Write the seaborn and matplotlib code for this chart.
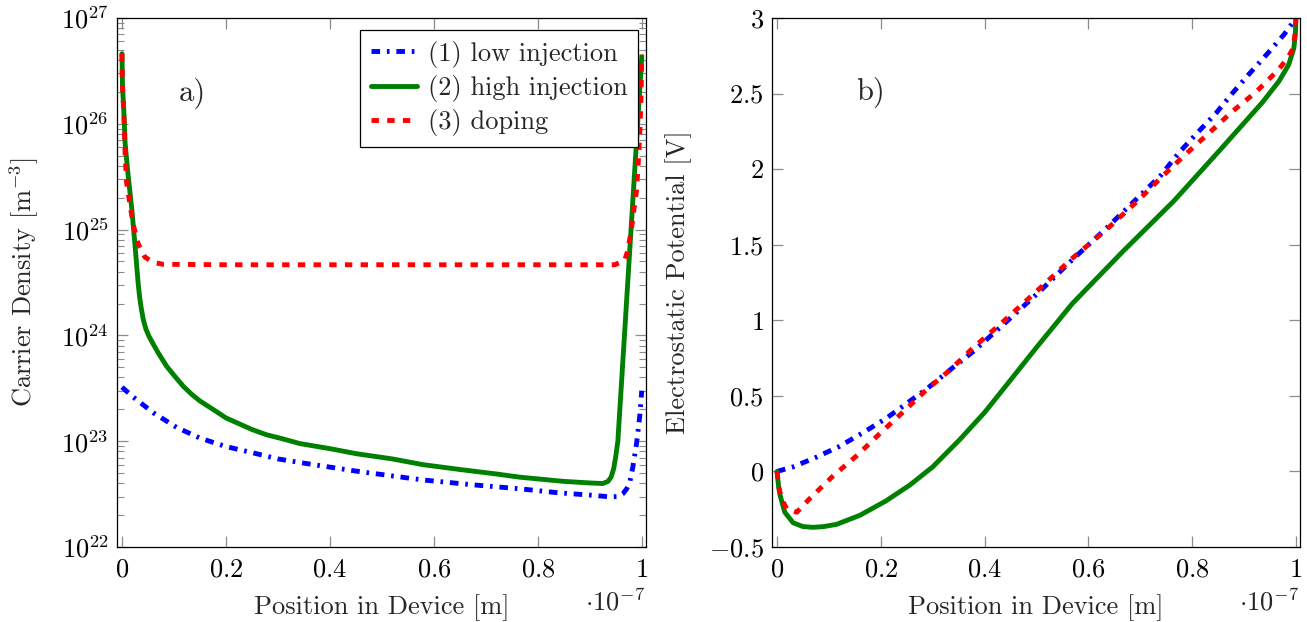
import numpy as np
import pandas as pd
import seaborn as sns
import matplotlib.pyplot as plt
from matplotlib.ticker import FixedLocator, FuncFormatter, LogLocator, NullFormatter

# --- values (position in units of 1e-7 m)
# a) carrier density [m^-3]
x_low = [0, 0.021, 0.06, 0.105, 0.15, 0.2, 0.25, 0.3, 0.35, 0.452, 0.579, 0.68,
         0.765, 0.84, 0.906, 0.938, 0.955, 0.964, 0.971, 0.977, 0.983, 0.99, 0.996, 1.0]
n_low = [3.24e23, 2.63e23, 1.86e23, 1.35e23, 1.07e23, 8.9e22, 7.8e22, 6.8e22, 6.2e22,
         5.2e22, 4.3e22, 3.85e22, 3.55e22, 3.25e22, 3.08e22, 2.98e22, 3.0e22, 3.2e22,
         3.55e22, 4.1e22, 5.75e22, 9.5e22, 1.7e23, 3.0e23]

x_high = [0, 0.001, 0.004, 0.006, 0.012, 0.019, 0.025, 0.031, 0.034, 0.037, 0.041,
          0.046, 0.052, 0.06, 0.07, 0.086, 0.1, 0.118, 0.135, 0.15, 0.175, 0.2, 0.25,
          0.278, 0.31, 0.342, 0.4, 0.452, 0.52, 0.579, 0.65, 0.72, 0.765, 0.85, 0.9,
          0.925, 0.935, 0.941, 0.946, 0.95, 0.954, 0.96, 0.97, 0.98, 0.99, 1.0]
n_high = [4.6e26, 2.3e26, 1.2e26, 6.6e25, 3.2e25, 1.55e25, 7.2e24, 3.16e24, 2.3e24,
          1.82e24, 1.41e24, 1.15e24, 9.8e23, 8.3e23, 6.8e23, 5.1e23, 4.2e23, 3.3e23,
          2.75e23, 2.4e23, 2.0e23, 1.66e23, 1.29e23, 1.15e23, 1.05e23, 9.5e22, 8.5e22,
          7.6e22, 6.8e22, 6.0e22, 5.4e22, 4.9e22, 4.57e22, 4.17e22, 4.03e22, 3.98e22,
          4.17e22, 4.57e22, 5.5e22, 7.2e22, 1.0e23, 2.95e23, 1.82e24, 1.12e25,
          6.9e25, 4.3e26]

x_dop = [0, 0.001, 0.004, 0.006, 0.009, 0.015, 0.021, 0.031, 0.044, 0.06, 0.079, 0.2,
         0.4, 0.6, 0.8, 0.948, 0.967, 0.973, 0.98, 0.985, 0.99, 0.994, 0.997, 0.999, 1.0]
n_dop = [4.6e26, 2.24e26, 1.1e26, 5.25e25, 2.75e25, 1.78e25, 1.15e25, 7.4e24, 5.5e24,
         4.9e24, 4.7e24, 4.65e24, 4.65e24, 4.65e24, 4.65e24, 4.65e24, 5.1e24, 6.3e24,
         1.0e25, 1.55e25, 2.34e25, 4.9e25, 1.0e26, 2.1e26, 4.5e26]

# b) electrostatic potential [V]
xv_low = [0, 0.031, 0.073, 0.12, 0.165, 0.21, 0.25, 0.29, 0.34, 0.377, 0.442, 0.506,
          0.569, 0.635, 0.698, 0.74, 0.775, 0.81, 0.846, 0.877, 0.91, 0.944, 0.977,
          0.992, 1.0]
v_low = [0, 0.03, 0.09, 0.165, 0.255, 0.35, 0.45, 0.55, 0.69, 0.79, 0.99, 1.19, 1.4,
         1.61, 1.82, 1.96, 2.11, 2.24, 2.37, 2.5, 2.63, 2.76, 2.89, 2.96, 3.0]

xv_high = [0, 0.003, 0.006, 0.015, 0.031, 0.05, 0.069, 0.09, 0.115, 0.16, 0.21, 0.256,
           0.3, 0.352, 0.4, 0.442, 0.5, 0.569, 0.665, 0.765, 0.852, 0.935, 0.967,
           0.986, 0.996, 0.999, 1.0]
v_high = [0, -0.1, -0.16, -0.27, -0.34, -0.365, -0.37, -0.365, -0.35, -0.29, -0.195,
          -0.09, 0.03, 0.21, 0.39, 0.57, 0.82, 1.11, 1.45, 1.79, 2.12, 2.44, 2.58, 2.69,
          2.8, 2.9, 3.0]

xv_dop = [0, 0.003, 0.01, 0.019, 0.038, 0.063, 0.108, 0.154, 0.198, 0.242, 0.288,
          0.333, 0.377, 0.442, 0.506, 0.569, 0.635, 0.698, 0.742, 0.788, 0.833, 0.877,
          0.923, 0.967, 0.985, 0.993, 0.998, 1.0]
v_dop = [0, -0.1, -0.19, -0.25, -0.27, -0.18, -0.03, 0.105, 0.25, 0.39, 0.54, 0.67,
         0.815, 1.01, 1.21, 1.41, 1.6, 1.8, 1.95, 2.1, 2.24, 2.38, 2.51, 2.66, 2.74,
         2.79, 2.88, 3.0]

labels = ["(1) low injection", "(2) high injection", "(3) doping"]
xticks = [0, 0.2, 0.4, 0.6, 0.8, 1]
vticks = [-0.5, 0, 0.5, 1, 1.5, 2, 2.5, 3]

# --- style
sns.set_style("ticks")
plt.rcParams["font.family"] = ["cmr10", "DejaVu Serif"]
plt.rcParams["mathtext.fontset"] = "cm"
plt.rcParams["axes.formatter.use_mathtext"] = True
plt.rcParams["axes.unicode_minus"] = False
plt.rcParams["lines.scale_dashes"] = False
fs = 19

c_low, c_high, c_dop = "#0000ff", "#008000", "#ff0000"
ls_low = (0, (6.2, 4.9, 1.9, 4.9))
ls_dop = (0, (5.3, 6.0))
lw = 3.5


def num(v, pos=None):
    return "$" + ("%g" % v) + "$"


fig = plt.figure(figsize=(13.07, 6.22), dpi=100)
ax1 = fig.add_axes([0.0895, 0.1206, 0.4047, 0.8505])
ax2 = fig.add_axes([0.5907, 0.1206, 0.4040, 0.8505])

# --- a) carrier density
sns.lineplot(x=x_low, y=n_low, ax=ax1, color=c_low, lw=lw, linestyle=ls_low,
             label=labels[0], estimator=None, sort=False)
sns.lineplot(x=x_high, y=n_high, ax=ax1, color=c_high, lw=lw, linestyle="-",
             label=labels[1], estimator=None, sort=False)
sns.lineplot(x=x_dop, y=n_dop, ax=ax1, color=c_dop, lw=lw, linestyle=ls_dop,
             label=labels[2], estimator=None, sort=False)
ax1.set_yscale("log")
ax1.set_ylim(1e22, 1e27)
ax1.yaxis.set_major_locator(LogLocator(base=10, numticks=10))
ax1.yaxis.set_minor_locator(LogLocator(base=10, subs=np.arange(2, 10), numticks=20))
ax1.yaxis.set_minor_formatter(NullFormatter())
ax1.set_ylabel(r"Carrier Density [m$^{-3}$]", fontsize=fs, labelpad=14)
ax1.text(0.135, 10 ** 26.29, "a)", fontsize=22, ha="center", va="center")
leg = ax1.legend(loc="upper right", fontsize=fs, frameon=True, fancybox=False,
                 framealpha=1, edgecolor="black", handlelength=1.75,
                 handletextpad=0.4, labelspacing=0.28, borderpad=0.4,
                 borderaxespad=0, bbox_to_anchor=(0.985, 0.977))
leg.get_frame().set_linewidth(0.9)

# --- b) electrostatic potential
sns.lineplot(x=xv_low, y=v_low, ax=ax2, color=c_low, lw=lw, linestyle=ls_low,
             estimator=None, sort=False, legend=False)
sns.lineplot(x=xv_high, y=v_high, ax=ax2, color=c_high, lw=lw, linestyle="-",
             estimator=None, sort=False, legend=False)
sns.lineplot(x=xv_dop, y=v_dop, ax=ax2, color=c_dop, lw=lw, linestyle=ls_dop,
             estimator=None, sort=False, legend=False)
ax2.set_ylim(-0.5, 3)
ax2.yaxis.set_major_locator(FixedLocator(vticks))
ax2.yaxis.set_major_formatter(FuncFormatter(num))
ax2.set_ylabel("Electrostatic Potential [V]", fontsize=fs, labelpad=12)
ax2.text(0.18, 2.51, "b)", fontsize=22, ha="center", va="center")

for ax in (ax1, ax2):
    ax.set_xlim(-0.0096, 1.008)
    ax.xaxis.set_major_locator(FixedLocator(xticks))
    ax.xaxis.set_major_formatter(FuncFormatter(num))
    ax.set_xlabel("Position in Device [m]", fontsize=fs, labelpad=9)
    ax.tick_params(which="both", direction="in", top=True, right=True,
                   color="#8c8c8c", labelsize=fs, labelcolor="black")
    ax.tick_params(which="major", length=8, width=0.9, pad=6)
    ax.tick_params(which="minor", length=5, width=0.8)
    ax.tick_params(axis="x", which="major", pad=8)
    for sp in ax.spines.values():
        sp.set_linewidth(0.9)
        sp.set_color("black")
    ax.text(0.998, -0.12, r"$\cdot 10^{-7}$", transform=ax.transAxes,
            fontsize=fs, ha="right", va="baseline")

fig.savefig("out.png", dpi=100)
